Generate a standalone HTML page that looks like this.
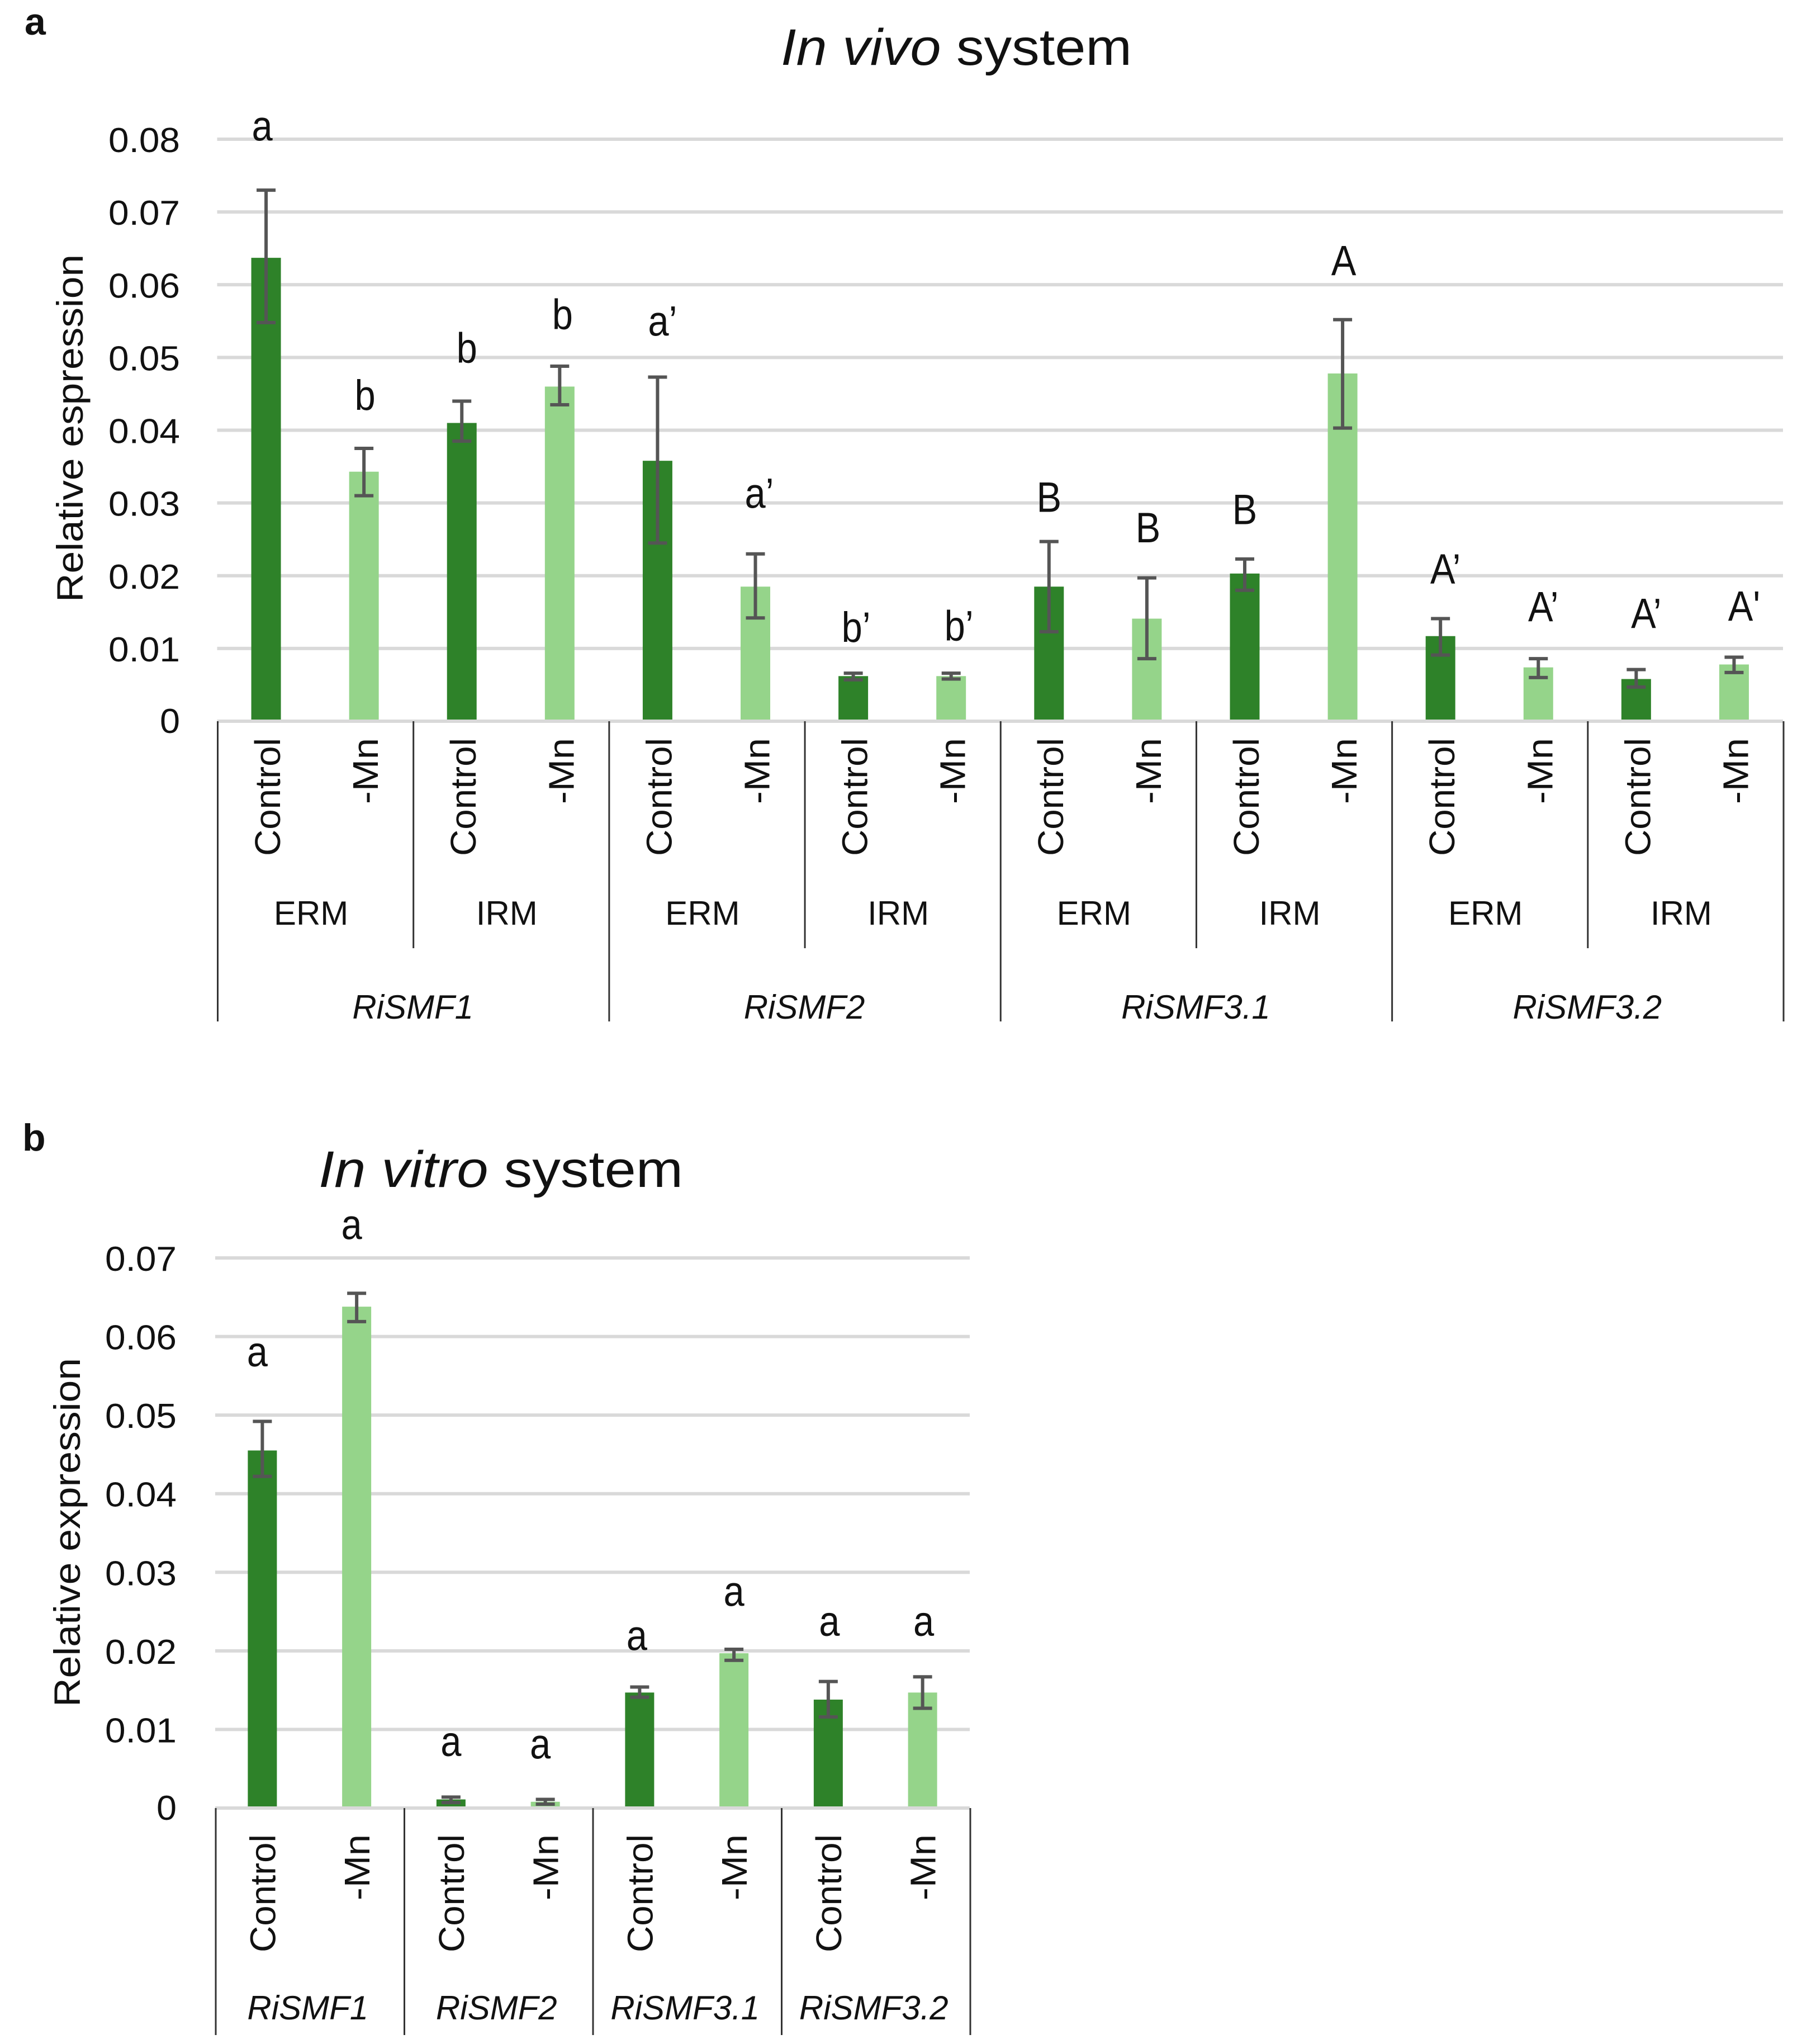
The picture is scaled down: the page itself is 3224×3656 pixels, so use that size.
<!DOCTYPE html>
<html lang="en">
<head>
<meta charset="utf-8">
<title>Relative expression of RiSMF genes</title>
<style>
html,body{margin:0;padding:0;background:#fff;width:3224px;height:3656px;overflow:hidden}
svg{display:block;font-family:"Liberation Sans",Arial,sans-serif;fill:#111}
</style>
</head>
<body>
<svg id="figure" xmlns="http://www.w3.org/2000/svg" width="3224" height="3656" viewBox="0 0 3224 3656">
  <rect x="0" y="0" width="3224" height="3656" fill="#ffffff"/>
  <text x="44" y="62" font-size="68" font-weight="bold">a</text>
  <text x="40" y="2058" font-size="68" font-weight="bold">b</text>
  <text x="1397" y="116" font-size="92" textLength="628" lengthAdjust="spacingAndGlyphs"><tspan font-style="italic">In vivo</tspan> system</text>
  <text x="570" y="2123" font-size="92" textLength="652" lengthAdjust="spacingAndGlyphs"><tspan font-style="italic">In vitro</tspan> system</text>
  <text transform="translate(148 1077) rotate(-90)" font-size="66" textLength="622" lengthAdjust="spacingAndGlyphs">Relative espression</text>
  <text transform="translate(143 3053) rotate(-90)" font-size="66" textLength="624" lengthAdjust="spacingAndGlyphs">Relative expression</text>
  <g id="chart-a"></g>
  <g id="chart-b"></g>
</svg>
<script>
/* In vivo data */
const vivoTickLabels = ["0", "0.01", "0.02", "0.03", "0.04", "0.05", "0.06", "0.07", "0.08"];
const vivoConditions = ["Control", "-Mn", "Control", "-Mn", "Control", "-Mn", "Control", "-Mn", "Control", "-Mn", "Control", "-Mn", "Control", "-Mn", "Control", "-Mn"];
const vivoTissues = ["ERM", "IRM", "ERM", "IRM", "ERM", "IRM", "ERM", "IRM"];
const vivoGenes = ["RiSMF1", "RiSMF2", "RiSMF3.1", "RiSMF3.2"];
const vivoValues = [0.0637, 0.0343, 0.0410, 0.0460, 0.0358, 0.0185, 0.0062, 0.0062, 0.0185, 0.0141, 0.0203, 0.0478, 0.0117, 0.0074, 0.0058, 0.0078];
const vivoErrorHigh = [0.0730, 0.0375, 0.0440, 0.0488, 0.0473, 0.0230, 0.0066, 0.0066, 0.0247, 0.0197, 0.0223, 0.0552, 0.0141, 0.0086, 0.0071, 0.0088];
const vivoErrorLow = [0.0548, 0.0310, 0.0385, 0.0435, 0.0245, 0.0142, 0.0057, 0.0058, 0.0123, 0.0086, 0.0180, 0.0403, 0.0091, 0.0060, 0.0047, 0.0067];
const vivoLetters = ["a", "b", "b", "b", "a\u2019", "a\u2019", "b\u2019", "b\u2019", "B", "B", "B", "A", "A\u2019", "A\u2019", "A\u2019", "A'"];
const vivoLetterLevels = [0.0798, 0.0428, 0.0493, 0.0539, 0.0530, 0.0293, 0.0109, 0.0111, 0.0288, 0.0246, 0.0271, 0.0613, 0.0189, 0.0137, 0.0128, 0.0138];

/* In vitro data */
const vitroTickLabels = ["0", "0.01", "0.02", "0.03", "0.04", "0.05", "0.06", "0.07"];
const vitroConditions = ["Control", "-Mn", "Control", "-Mn", "Control", "-Mn", "Control", "-Mn"];
const vitroGenes = ["RiSMF1", "RiSMF2", "RiSMF3.1", "RiSMF3.2"];
const vitroValues = [0.0455, 0.0638, 0.0011, 0.0008, 0.0147, 0.0197, 0.0138, 0.0147];
const vitroErrorHigh = [0.0492, 0.0655, 0.0014, 0.0011, 0.0154, 0.0202, 0.0161, 0.0167];
const vitroErrorLow = [0.0422, 0.0619, 0.0007, 0.0005, 0.0141, 0.0188, 0.0116, 0.0127];
const vitroLetters = ["a", "a", "a", "a", "a", "a", "a", "a"];
const vitroLetterLevels = [0.0562, 0.0724, 0.0066, 0.0063, 0.0201, 0.0257, 0.0219, 0.0219];

const SVG_NS = "http://www.w3.org/2000/svg";
const DARK_GREEN = "#2e8229";
const LIGHT_GREEN = "#95d48a";
const GRID = "#d9d9d9";
const ERROR = "#555555";
const DIVIDER = "#333333";

function make(parent, tag, props, content) {
  const node = document.createElementNS(SVG_NS, tag);
  for (const key in props) node.setAttribute(key, props[key]);
  if (content !== undefined) node.textContent = content;
  parent.appendChild(node);
  return node;
}

function drawChart(root, opts) {
  const yScale = v => opts.y0 - v * opts.pxPerUnit;
  const catW = (opts.x1 - opts.x0) / opts.conditions.length;
  const xCenter = i => opts.x0 + catW * (i + 0.5);

  opts.ticks.forEach(label => {
    const v = parseFloat(label);
    const y = yScale(v);
    if (v > 0) {
      const grid = make(root, "line", {x1: opts.x0, x2: opts.x1, y1: y, y2: y, stroke: GRID, "stroke-width": 6});
      
      
    }
    const tick = make(root, "text", {x: opts.tickRight, y: y + (v > 0 ? 23 : 21), "font-size": 62, "text-anchor": "end", textLength: label.length > 1 ? 128 : 36, lengthAdjust: "spacingAndGlyphs"}, label);
    
    
  });

  opts.values.forEach((value, i) => {
    const cx = xCenter(i);
    const isControl = opts.conditions[i] === "Control";
    const bar = make(root, "rect", {x: cx - opts.barW / 2, y: yScale(value), width: opts.barW, height: opts.y0 - yScale(value), fill: isControl ? DARK_GREEN : LIGHT_GREEN});
    
    

    const hi = yScale(opts.errHigh[i]);
    const lo = yScale(opts.errLow[i]);
    const whisker = make(root, "path", {
      d: "M" + (cx - 17) + " " + hi + "H" + (cx + 17) + "M" + cx + " " + hi + "V" + lo + "M" + (cx - 17) + " " + lo + "H" + (cx + 17),
      fill: "none", stroke: ERROR, "stroke-width": 6
    });
    
    

    const letter = make(root, "text", {x: cx + opts.letterNudge[i], y: yScale(opts.letterLevels[i]), "font-size": 76, "text-anchor": "middle"}, opts.letters[i]);
    
    
    letter.setAttribute('lengthAdjust', 'spacingAndGlyphs');
    letter.setAttribute('textLength', letter.getComputedTextLength() * 0.88);

    const condLength = isControl ? 211 : 118;
    const cond = make(root, "text", {
      transform: "translate(" + (cx + opts.labelShift) + " " + (opts.y0 + opts.labelGap) + ") rotate(-90)",
      "font-size": 64, "text-anchor": "end", textLength: condLength, lengthAdjust: "spacingAndGlyphs"
    }, opts.conditions[i]);
    
    
  });

  const axis = make(root, "line", {x1: opts.x0, x2: opts.x1, y1: opts.y0, y2: opts.y0, stroke: GRID, "stroke-width": 6});
  
  

  const n = opts.conditions.length;
  if (opts.tissues) {
    const span = n / opts.tissues.length;
    opts.tissues.forEach((name, i) => {
      const t = make(root, "text", {x: opts.x0 + catW * span * (i + 0.5) - 7, y: opts.tissueY, "font-size": 60, "text-anchor": "middle"}, name);
      
      
    });
    for (let i = 1; i < opts.tissues.length; i += 2) {
      const x = opts.x0 + catW * span * i + 1;
      const d = make(root, "line", {x1: x, x2: x, y1: opts.y0, y2: opts.tissueBottom, stroke: DIVIDER, "stroke-width": 3});
      
      
    }
  }
  const geneSpan = n / opts.genes.length;
  opts.genes.forEach((name, i) => {
    const g = make(root, "text", {x: opts.x0 + catW * geneSpan * (i + 0.5) + opts.geneShift, y: opts.geneY, "font-size": 60, "font-style": "italic", "text-anchor": "middle"}, name);
    
    
  });
  for (let i = 0; i <= opts.genes.length; i++) {
    const x = opts.x0 + catW * geneSpan * i + 1;
    const d = make(root, "line", {x1: x, x2: x, y1: opts.y0, y2: opts.bottom, stroke: DIVIDER, "stroke-width": 3});
    
    
  }
}

drawChart(document.getElementById("chart-a"), {
  ticks: vivoTickLabels, conditions: vivoConditions, tissues: vivoTissues, genes: vivoGenes,
  values: vivoValues, errHigh: vivoErrorHigh, errLow: vivoErrorLow,
  letters: vivoLetters, letterLevels: vivoLetterLevels,
  letterNudge: [-7, 2, 9, 5, 9, 7, 5, 14, 0, 2, 0, 2, 9, 9, 18, 18],
  x0: 388.5, x1: 3190, y0: 1290, pxPerUnit: 13012, barW: 53, tickRight: 322,
  labelShift: 25, labelGap: 30, geneShift: 0,
  tissueY: 1654, tissueBottom: 1696, geneY: 1822, bottom: 1827
});

drawChart(document.getElementById("chart-b"), {
  ticks: vitroTickLabels, conditions: vitroConditions, genes: vitroGenes,
  values: vitroValues, errHigh: vitroErrorHigh, errLow: vitroErrorLow,
  letters: vitroLetters, letterLevels: vitroLetterLevels,
  letterNudge: [-9, -9, 0, -9, -5, 0, 2, 2],
  x0: 385, x1: 1735, y0: 3234, pxPerUnit: 14057, barW: 52, tickRight: 316,
  labelShift: 23, labelGap: 47, geneShift: -3,
  geneY: 3612, bottom: 3640
});
</script>
</body>
</html>
